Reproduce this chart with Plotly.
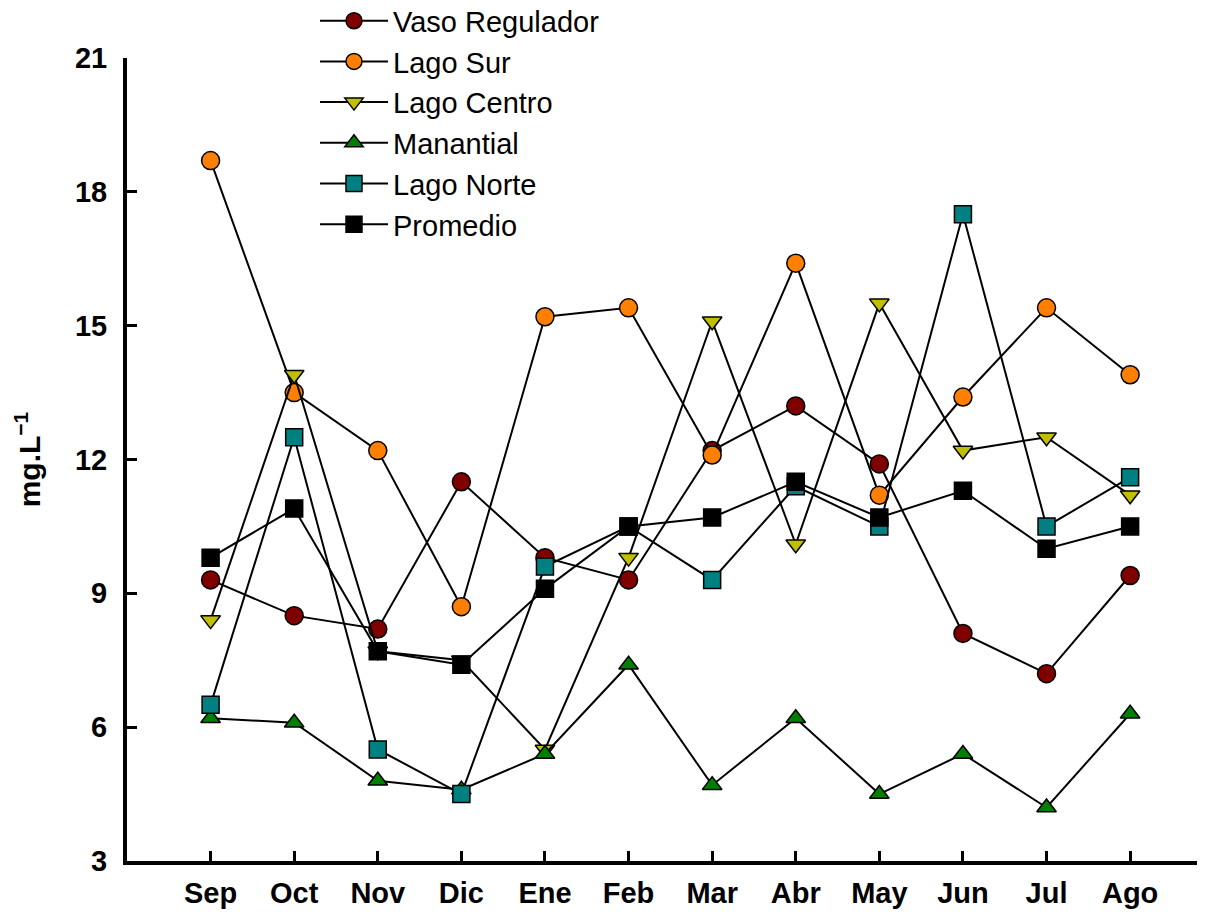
import plotly.graph_objects as go

# Monthly concentrations (mg/L) per sampling site
meses = ["Sep", "Oct", "Nov", "Dic", "Ene", "Feb", "Mar", "Abr", "May", "Jun", "Jul", "Ago"]

vaso_regulador = [9.3, 8.5, 8.2, 11.5, 9.8, 9.3, 12.2, 13.2, 11.9, 8.1, 7.2, 9.4]
lago_sur = [18.7, 13.5, 12.2, 8.7, 15.2, 15.4, 12.1, 16.4, 11.2, 13.4, 15.4, 13.9]
lago_centro = [8.4, 13.9, 7.7, 7.5, 5.5, 9.8, 15.1, 10.1, 15.5, 12.2, 12.5, 11.2]
manantial = [6.2, 6.1, 4.8, 4.6, 5.4, 7.4, 4.7, 6.2, 4.5, 5.4, 4.2, 6.3]
lago_norte = [6.5, 12.5, 5.5, 4.5, 9.6, 10.5, 9.3, 11.4, 10.5, 17.5, 10.5, 11.6]
promedio = [9.8, 10.9, 7.7, 7.4, 9.1, 10.5, 10.7, 11.5, 10.7, 11.3, 10.0, 10.5]

y_ticks = [3, 6, 9, 12, 15, 18, 21]

series = [
    ("Vaso Regulador", vaso_regulador, "circle", "#800000"),
    ("Lago Sur", lago_sur, "circle", "#FF8000"),
    ("Lago Centro", lago_centro, "triangle-down", "#C0C000"),
    ("Manantial", manantial, "triangle-up", "#008000"),
    ("Lago Norte", lago_norte, "square", "#008080"),
    ("Promedio", promedio, "square", "#000000"),
]

fig = go.Figure()
for name, vals, symbol, color in series:
    fig.add_trace(go.Scatter(
        x=meses, y=vals, name=name, mode="lines+markers",
        line=dict(color="black", width=2),
        marker=dict(symbol=symbol, size=18 if "circle" in symbol else 17,
                    color=color, line=dict(color="black", width=1.5)),
    ))

font_family = "Liberation Sans, Arial, sans-serif"

fig.update_layout(
    width=1211, height=917,
    margin=dict(l=127, r=14, t=58, b=56, autoexpand=False),
    plot_bgcolor="white", paper_bgcolor="white",
    font=dict(family=font_family, color="black"),
    showlegend=True,
    legend=dict(
        x=0.1757, y=1.078, xanchor="left", yanchor="top",
        font=dict(size=29, family=font_family),
        bgcolor="rgba(0,0,0,0)", tracegroupgap=0, itemwidth=68,
    ),
    xaxis=dict(
        type="category", range=[-1, 11.8], automargin=False,
        showline=True, linecolor="black", linewidth=4,
        ticks="inside", ticklen=10, tickwidth=3, tickcolor="black",
        tickfont=dict(size=29, family=font_family, weight="bold"),
        ticklabelstandoff=3,
        showgrid=False, zeroline=False,
    ),
    yaxis=dict(
        range=[3, 21], tickvals=y_ticks, automargin=False,
        showline=True, linecolor="black", linewidth=4,
        ticks="inside", ticklen=10, tickwidth=3, tickcolor="black",
        tickfont=dict(size=29, family=font_family, weight="bold"),
        ticklabelstandoff=10,
        showgrid=False, zeroline=False,
        title=dict(text="mg.L<sup>\u22121</sup>", standoff=26,
                   font=dict(size=30, family=font_family, weight="bold")),
    ),
)

fig.write_html("out.html")
